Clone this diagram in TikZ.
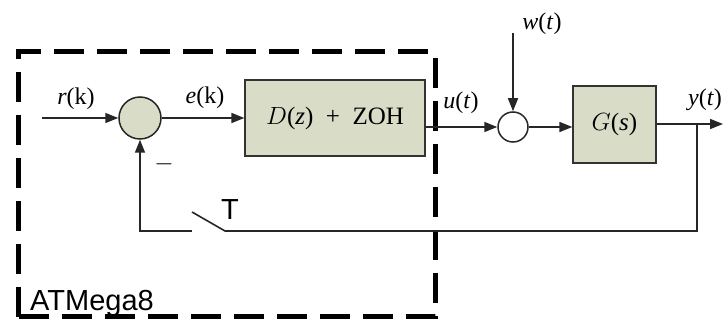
\documentclass[tikz,border=0pt]{standalone}
\usepackage{fontspec}
\setmainfont{Liberation Serif}
\newfontfamily\arialf{Liberation Sans}
\usetikzlibrary{arrows.meta}
\definecolor{boxfill}{HTML}{D9DCC6}
\begin{document}
\begin{tikzpicture}[x=1pt,y=-1pt,
  conn/.style={line width=1.6pt,draw=black!85},
  arr/.style={conn,-{Triangle[length=13pt,width=10pt]}},
  blockbox/.style={draw=black!80,line width=1.3pt,fill=boxfill,inner sep=0pt},
  lbl/.style={font=\fontsize{24}{26}\selectfont,inner sep=0pt},
  sans/.style={font=\arialf\fontsize{29}{30}\selectfont,inner sep=0pt}]
\useasboundingbox (0,0) rectangle (723,320);
% dashed ATMega8 border
\draw[line width=5pt,dash pattern=on 30pt off 13pt] (18,317) -- (18,52) -- (435,52) -- (435,317) -- cycle;
% blocks
\node[blockbox,minimum width=180pt,minimum height=76pt] (D) at (335,118) {};
\node[lbl,font=\fontsize{25}{27}\selectfont] at (D.center) {$D$(\textit{z})\ \ +\ \ ZOH};
\node[blockbox,minimum width=83pt,minimum height=77pt] (G) at (614.5,124.5) {};
\node[lbl,font=\fontsize{25}{27}\selectfont] at (G.center) {$G$(\textit{s})};
% summing junctions
\node[circle,draw=black!85,line width=1.5pt,fill=boxfill,minimum size=42pt,inner sep=0pt] (S1) at (140,118) {};
\node[circle,draw=black!85,line width=1.5pt,fill=white,minimum size=30pt,inner sep=0pt] (S2) at (513,127) {};
% coordinates
\coordinate (rin) at (42,118);
\coordinate (win) at (513,33);
\coordinate (yout) at (723,124);
\coordinate (tap) at (697,124);
\coordinate (fbR) at (697,231);
\coordinate (swR) at (225,231);
\coordinate (swB) at (192,212);
\coordinate (swL) at (192,231);
\coordinate (fbL) at (140,231);
% connectors
\draw[arr] (rin) -- (S1.west);
\draw[arr] (S1.east) -- (D.west |- S1.east);
\draw[arr] (D.east |- S2.west) -- (S2.west);
\draw[arr] (win) -- (S2.north);
\draw[arr] (S2.east) -- (G.west |- S2.east);
\draw[arr] (G.east |- yout) -- (yout);
\draw[conn] (tap) -- (fbR) -- (swR) -- (swB);
\draw[arr] (swL) -- (fbL) -- (S1.south);
% labels
\node[lbl] at (76,99) {\textit{r}(k)};
\node[lbl] at (205,98) {\textit{e}(k)};
\node[lbl] at (461,103) {\textit{u}(\textit{t})};
\node[lbl] at (542,24) {\textit{w}(\textit{t})};
\node[lbl] at (705,100) {\textit{y}(\textit{t})};
\node[font=\fontsize{26}{28}\selectfont,inner sep=0pt] at (164,164) {$-$};
\node[sans] at (230,210) {T};
\node[sans,anchor=base west] at (30,311) {ATMega8};
\end{tikzpicture}
\end{document}
